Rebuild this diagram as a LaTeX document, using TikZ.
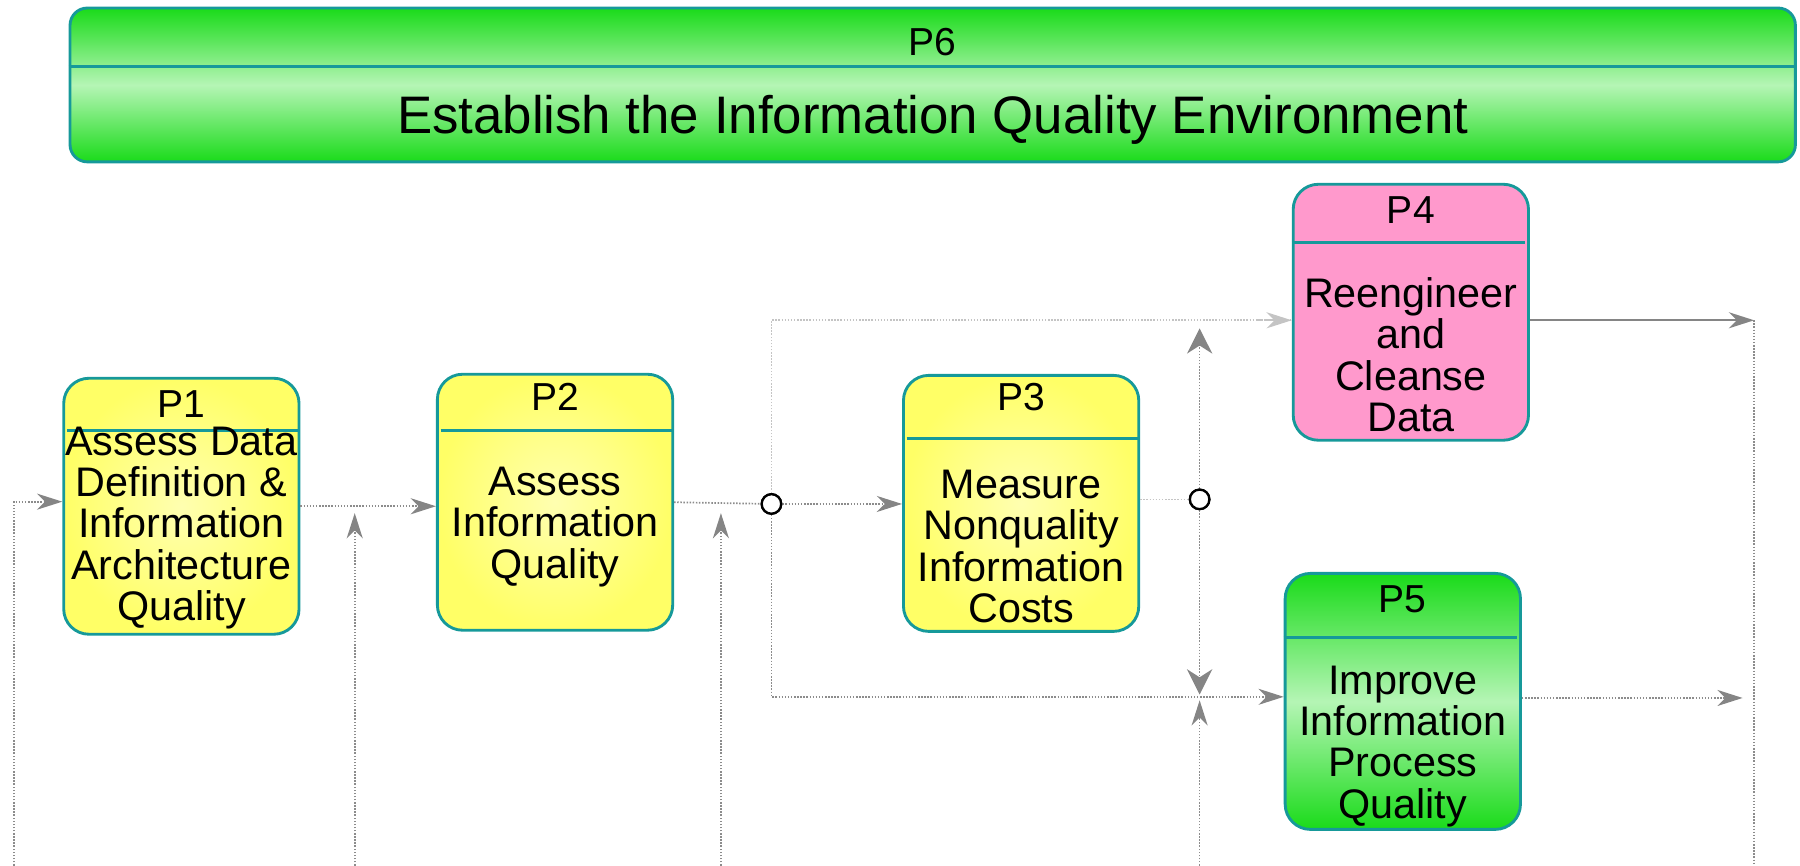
\documentclass[tikz,border=0pt]{standalone}
\usepackage{fontspec}
\setmainfont{Liberation Sans}
\usetikzlibrary{arrows.meta,calc}
\definecolor{bordc}{HTML}{16999A}
\definecolor{ylw}{HTML}{FFFF66}
\definecolor{ylwc}{HTML}{FFFFB0}
\definecolor{pinkc}{HTML}{FF99CC}
\definecolor{grn}{HTML}{1ADB1A}
\definecolor{grnl}{HTML}{B5F5B5}
\definecolor{linec}{HTML}{8C8C8C}
\definecolor{tipc}{HTML}{858585}
\definecolor{lightc}{HTML}{C4C4C4}
\begin{document}
\begin{tikzpicture}[x=1pt,y=-1pt,
  box/.style={draw=bordc, line width=2.5pt, rounded corners=22pt,
    minimum width=205pt, minimum height=223pt, inner sep=0pt},
  yellowbox/.style={box, inner color=ylwc, outer color=ylw},
  divider/.style={draw=bordc, line width=2.5pt},
  ptitle/.style={inner sep=0pt, font=\fontsize{34}{34}\selectfont},
  pbody/.style={inner sep=0pt, align=center, font=\fontsize{36}{36}\selectfont},
  dots/.style={line width=1.5pt, dash pattern=on 1.3pt off 1.4pt},
  flow/.style={draw=linec, dots,
    -{Stealth[length=22pt, width=14pt, inset=7pt, color=tipc, fill=tipc]}},
  wideflow/.style={draw=linec, dots,
    -{Stealth[length=22pt, width=22pt, inset=7pt, color=tipc, fill=tipc]}},
  flowlight/.style={draw=lightc, dots,
    -{Stealth[length=22pt, width=14pt, inset=7pt, color=lightc, fill=lightc]}},
  plain/.style={draw=linec, dots},
  plainlight/.style={draw=lightc, dots},
  solidflow/.style={draw=tipc, line width=1.8pt,
    -{Stealth[length=22pt, width=14pt, inset=7pt, color=tipc, fill=tipc]}},
  junction/.style={circle, draw=black, line width=2pt, fill=white, minimum size=17pt, inner sep=0pt}
]
\useasboundingbox (0,0) rectangle (1568,754);

% P6
\node[draw=bordc, line width=2.5pt, rounded corners=15pt, minimum width=1503pt, minimum height=134pt,
  top color=grn, bottom color=grn, middle color=grnl, inner sep=0pt] (p6) at (812.5,74) {};
\draw[divider] (p6.west |- 0,58) -- (p6.east |- 0,58);
\node[ptitle] (p6l) at (812.5,37) {P6};
\node[inner sep=0pt, font=\fontsize{46}{46}\selectfont] (p6b) at (812.5,104) {Establish the Information Quality Environment};

% P1
\node[yellowbox] (p1) at (158,441) {};
\draw[divider] ([xshift=4pt]p1.west |- 0,375) -- (p1.east |- 0,375);
\node[ptitle] (p1l) at (158,352) {P1};
\node[pbody] (p1b) at (158,460) {Assess Data\\Definition \&\\Information\\Architecture\\Quality};

% P2
\node[yellowbox] (p2) at (483.5,437.5) {};
\draw[divider] ([xshift=4pt]p2.west |- 0,375) -- (p2.east |- 0,375);
\node[ptitle] (p2l) at (483.5,346) {P2};
\node[pbody] (p2b) at (483.5,459) {Assess\\Information\\Quality};

% P3
\node[yellowbox] (p3) at (889.5,438.5) {};
\draw[divider] ([xshift=4pt]p3.west |- 0,382) -- (p3.east |- 0,382);
\node[ptitle] (p3l) at (889.5,346) {P3};
\node[pbody] (p3b) at (889.5,476) {Measure\\Nonquality\\Information\\Costs};

% P4
\node[box, fill=pinkc] (p4) at (1229,272) {};
\draw[divider] (p4.west |- 0,211) -- ([xshift=-4pt]p4.east |- 0,211);
\node[ptitle] (p4l) at (1229,183) {P4};
\node[pbody] (p4b) at (1229,309) {Reengineer\\and\\Cleanse\\Data};

% P5
\node[box, top color=grn, bottom color=grn, middle color=grnl] (p5) at (1222,611) {};
\draw[divider] (p5.west |- 0,555) -- ([xshift=-4pt]p5.east |- 0,555);
\node[ptitle] (p5l) at (1222,522) {P5};
\node[pbody] (p5b) at (1222,650) {Improve\\Information\\Process\\Quality};

% junctions and free ends
\node[junction] (j1) at (672,439) {};
\node[junction] (j2) at (1045,435) {};
\coordinate (b0) at (12,754);
\coordinate (b1) at (309,754);
\coordinate (u1) at (309,447);
\coordinate (b2) at (628,754);
\coordinate (u2) at (628,447);
\coordinate (b3) at (1045,754);
\coordinate (u3) at (1045,610);
\coordinate (a4) at (1045,286);
\coordinate (a5) at (1045,605);
\coordinate (r4) at (1528,279);
\coordinate (b4) at (1528,754);
\coordinate (r5) at (1518,608);

% connectors
\draw[flow] (b0) |- ([yshift=4pt]p1.west);
\draw[flow] (p1.east) -- (p1.east -| p2.west);
\draw[flow] (b1) -- (u1);
\draw[plain] (p2.east) -- (j1);
\draw[flow] (b2) -- (u2);
\draw[flow] (j1) -- (j1 -| p3.west);
\draw[plainlight] (j1) |- (p4.west |- r4);
\draw[flowlight] ([xshift=-30pt]p4.west |- r4) -- (p4.west |- r4);
\draw[flow] (j1) |- ([yshift=4pt]p5.west);
\draw[plainlight] (p3.east |- j2) -- (j2);
\draw[wideflow] (j2) -- (a4);
\draw[wideflow] (j2) -- (a5);
\draw[flow] (b3) -- (u3);
\draw[solidflow] (p4.east |- r4) -- (r4);
\draw[plain] (r4) -- (b4);
\draw[flow] (p5.east |- r5) -- (r5);
\node[junction] at (j1) {};
\node[junction] at (j2) {};
\end{tikzpicture}
\end{document}
